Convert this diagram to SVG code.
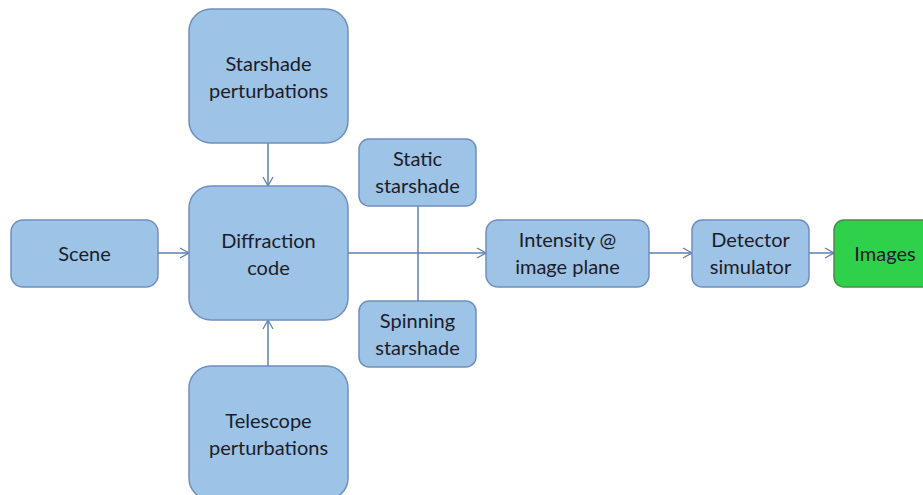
<svg xmlns="http://www.w3.org/2000/svg" width="923" height="495" viewBox="0 0 923 495">
<defs>
<style>
.n{fill:#9dc3e6;stroke:#6f8fbf;stroke-width:1.5}
.g{fill:#2fd14a;stroke:#4a8a4a;stroke-width:1.5}
.t{font-family:Lato,"Liberation Sans",sans-serif;font-size:20px;fill:#1c1c28;text-anchor:middle}
.c{fill:none;stroke:#5f7fb4;stroke-width:1.5}
</style>
<marker id="a" markerWidth="12" markerHeight="12" refX="10" refY="6" orient="auto" markerUnits="userSpaceOnUse">
<path d="M1,1 L10,6 L1,11" fill="none" stroke="#5f7fb4" stroke-width="1.3"/>
</marker>
</defs>
<rect width="923" height="495" fill="#fff"/>
<g id="connectors">
<line class="c" x1="268" y1="143" x2="268" y2="186" marker-end="url(#a)"/>
<line class="c" x1="268" y1="366" x2="268" y2="320" marker-end="url(#a)"/>
<line class="c" x1="158" y1="253" x2="189" y2="253" marker-end="url(#a)"/>
<line class="c" x1="348" y1="253" x2="486" y2="253" marker-end="url(#a)"/>
<line class="c" x1="418" y1="206" x2="418" y2="301"/>
<line class="c" x1="649" y1="253" x2="692" y2="253" marker-end="url(#a)"/>
<line class="c" x1="809" y1="253" x2="834" y2="253" marker-end="url(#a)"/>
</g>
<g id="starshade-perturbations">
<rect class="n" x="189" y="9" width="159" height="134" rx="22"/>
<text class="t" x="268.5" y="71">Starshade</text>
<text class="t" x="268.5" y="98">perturbations</text>
</g>
<g id="diffraction-code">
<rect class="n" x="189" y="186" width="159" height="134" rx="22"/>
<text class="t" x="268.5" y="248">Diffraction</text>
<text class="t" x="268.5" y="275">code</text>
</g>
<g id="telescope-perturbations">
<rect class="n" x="189" y="366" width="159" height="134" rx="22"/>
<text class="t" x="268.5" y="428">Telescope</text>
<text class="t" x="268.5" y="455">perturbations</text>
</g>
<g id="scene">
<rect class="n" x="11" y="220" width="147" height="67" rx="12"/>
<text class="t" x="84.5" y="261">Scene</text>
</g>
<g id="static-starshade">
<rect class="n" x="359" y="139" width="117" height="67" rx="10"/>
<text class="t" x="417.5" y="166">Static</text>
<text class="t" x="417.5" y="193">starshade</text>
</g>
<g id="spinning-starshade">
<rect class="n" x="359" y="301" width="117" height="66" rx="10"/>
<text class="t" x="417.5" y="328">Spinning</text>
<text class="t" x="417.5" y="355">starshade</text>
</g>
<g id="intensity">
<rect class="n" x="486" y="220" width="163" height="67" rx="12"/>
<text class="t" x="567.5" y="247">Intensity @</text>
<text class="t" x="567.5" y="274">image plane</text>
</g>
<g id="detector">
<rect class="n" x="692" y="220" width="117" height="67" rx="10"/>
<text class="t" x="750.5" y="247">Detector</text>
<text class="t" x="750.5" y="274">simulator</text>
</g>
<g id="images">
<rect class="g" x="834" y="220" width="100" height="67" rx="10"/>
<text class="t" x="885" y="261">Images</text>
</g>
</svg>
